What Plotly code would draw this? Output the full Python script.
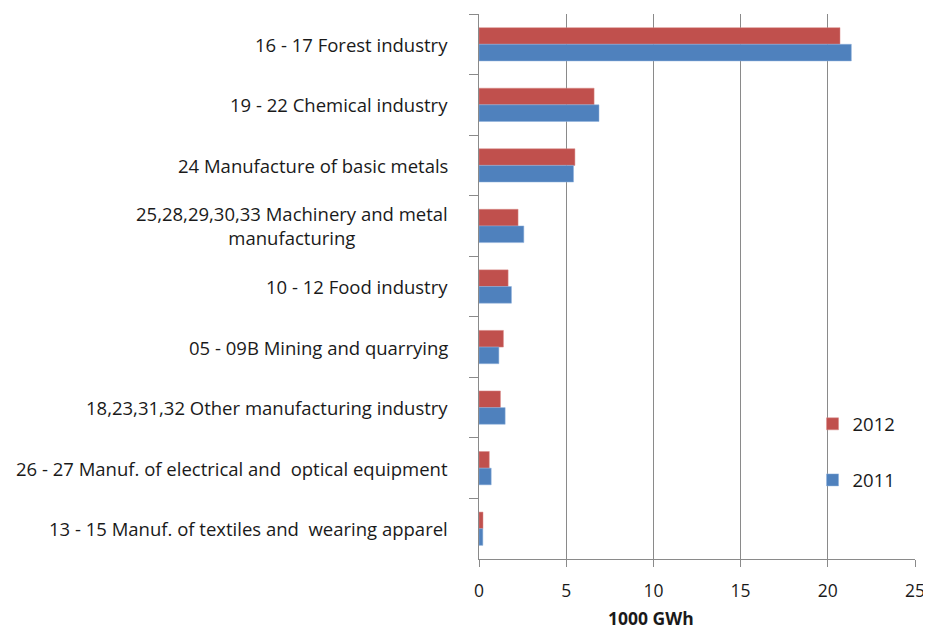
import plotly.graph_objects as go

categories = [
    "16 - 17 Forest industry",
    "19 - 22 Chemical industry",
    "24 Manufacture of basic metals",
    "25,28,29,30,33 Machinery and metal<br>manufacturing",
    "10 - 12 Food industry",
    "05 - 09B Mining and quarrying",
    "18,23,31,32 Other manufacturing industry",
    "26 - 27 Manuf. of electrical and  optical equipment",
    "13 - 15 Manuf. of textiles and  wearing apparel",
]
values_2012 = [20.7, 6.6, 5.5, 2.24, 1.67, 1.4, 1.23, 0.59, 0.23]
values_2011 = [21.35, 6.88, 5.42, 2.57, 1.86, 1.14, 1.5, 0.7, 0.22]
x_ticks = [0, 5, 10, 15, 20, 25]

FONT = "Open Sans"
GRID = "#8a8a8a"
TXT = "#1a1a1a"

fig = go.Figure()
fig.add_trace(go.Bar(y=categories, x=values_2012, orientation="h", name="2012",
                     marker=dict(color="#C0504D", line=dict(color="#d88a88", width=0.5)),
                     legendgroup="a"))
fig.add_trace(go.Bar(y=categories, x=values_2011, orientation="h", name="2011",
                     marker=dict(color="#4F81BD", line=dict(color="#8fb0dc", width=0.5)),
                     legendgroup="b"))

for c in categories:
    fig.add_annotation(x=0, xref="paper", y=c, yref="y", text=c, showarrow=False,
                       xanchor="right", xshift=-29, align="center",
                       font=dict(family=FONT, size=18.5, color=TXT))

fig.add_annotation(x=0.395, xref="paper", y=0, yref="paper", yshift=-59, text="<b>1000 GWh</b>",
                   showarrow=False, xanchor="center", yanchor="middle",
                   font=dict(family=FONT, size=17.5, color=TXT))

# page body has an 8px margin, so the figure is drawn 8px in from the top-left
fig.update_layout(
    width=923, height=622,
    margin=dict(l=471, r=12, t=6, b=71),
    paper_bgcolor="white", plot_bgcolor="white",
    barmode="group", bargap=0.45, bargroupgap=0,
    font=dict(family=FONT, size=17.5, color=TXT),
    legend=dict(x=0.765, y=0.282, xanchor="left", yanchor="top",
                tracegroupgap=29, font=dict(family=FONT, size=18.5, color=TXT),
                bgcolor="rgba(0,0,0,0)"),
    xaxis=dict(range=[0, 25], tickvals=x_ticks, showgrid=True, gridcolor=GRID, gridwidth=1,
               showline=True, linecolor=GRID, linewidth=1, ticks="outside", ticklen=7,
               tickcolor=GRID, zeroline=False, fixedrange=True, ticklabelstandoff=9,
               tickfont=dict(family=FONT, size=17.5, color=TXT)),
    yaxis=dict(type="category", autorange="reversed", showticklabels=False,
               ticks="outside", tickson="boundaries", ticklen=9, tickcolor=GRID,
               showline=True, linecolor=GRID, linewidth=1, showgrid=False, zeroline=False),
)

fig.write_html("out.html")
